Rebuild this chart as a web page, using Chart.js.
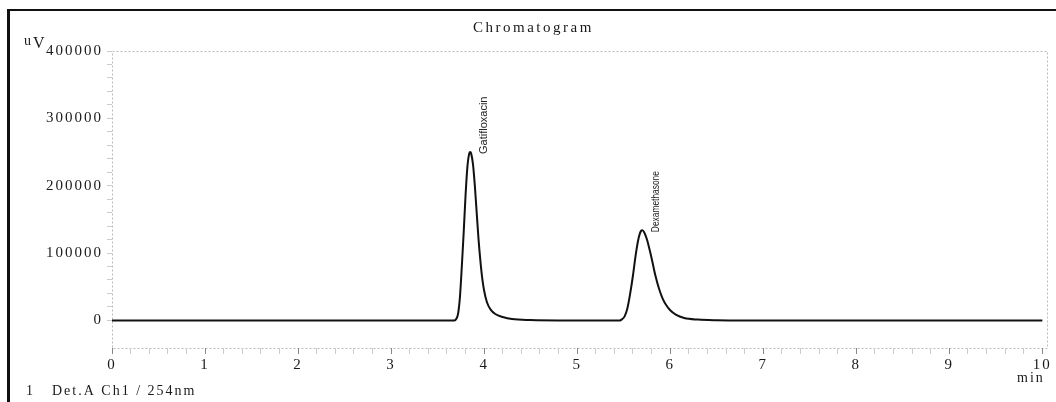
<!DOCTYPE html>
<html>
<head>
<meta charset="utf-8">
<script src="https://cdn.jsdelivr.net/npm/chart.js@4/dist/chart.umd.min.js"></script>
<style>
  body { margin: 0; background: #fff; }
  canvas { display: block; }
</style>
</head>
<body>
<canvas id="chromChart" width="1056" height="402"></canvas>
<script>
// retention time (min) and detector signal (uV)
const times = [0, 1, 2, 3, 3.6, 3.68, 3.7, 3.72, 3.74, 3.76, 3.78, 3.8, 3.82, 3.84, 3.85, 3.86, 3.88, 3.9, 3.92, 3.94, 3.96, 3.98, 4.0, 4.03, 4.07, 4.12, 4.2, 4.3, 4.5, 4.8, 5.0, 5.4, 5.46, 5.48, 5.51, 5.54, 5.57, 5.6, 5.63, 5.66, 5.69, 5.7, 5.72, 5.75, 5.78, 5.81, 5.84, 5.88, 5.92, 5.96, 6.0, 6.06, 6.15, 6.3, 6.5, 6.8, 7.2, 8, 9, 10];
const signal = [0, 0, 0, 0, 0, 0, 2000, 10000, 35000, 80000, 130000, 185000, 228000, 248000, 250000, 248000, 232000, 200000, 160000, 120000, 88000, 62000, 44000, 27000, 16000, 9500, 5000, 2000, 500, 0, 0, 0, 0, 1500, 6000, 18000, 40000, 67000, 98000, 122000, 133500, 134000, 131000, 120000, 104000, 86000, 67000, 47000, 32000, 22000, 15000, 8500, 3500, 1200, 300, 0, 0, 0, 0, 0];

const peakNames = ['Gatifloxacin', 'Dexamethasone'];
const peakTimes = [3.85, 5.7];
const peakHeights = [250000, 134000];

const yTicks = [0, 100000, 200000, 300000, 400000];
const xTicks = [0, 1, 2, 3, 4, 5, 6, 7, 8, 9, 10];

const points = times.map((t, i) => ({ x: t, y: signal[i] }));

const serif = "'Liberation Serif', 'Times New Roman', serif";

// small unlabelled ticks between the labelled ones
function minorTicks(labels, parts) {
    const out = [];
    for (let i = 0; i < labels.length - 1; i++) {
        const step = (labels[i + 1] - labels[i]) / parts;
        for (let k = 0; k < parts; k++) out.push(labels[i] + k * step);
    }
    out.push(labels[labels.length - 1]);
    return out;
}

const frame = {
    id: 'frame',
    beforeUpdate(chart) { chart.ctx.letterSpacing = '2px'; },
    beforeDraw(chart) {
        const ctx = chart.ctx;
        const a = chart.chartArea;
        ctx.save();
        ctx.fillStyle = '#fff';
        ctx.fillRect(0, 0, chart.width, chart.height);
        // scanned page frame
        ctx.strokeStyle = '#111';
        ctx.lineWidth = 2;
        ctx.beginPath();
        ctx.moveTo(7, 10); ctx.lineTo(chart.width, 10);
        ctx.stroke();
        ctx.lineWidth = 3;
        ctx.beginPath();
        ctx.moveTo(8.5, 9); ctx.lineTo(8.5, chart.height);
        ctx.stroke();
        // dotted plot border
        ctx.strokeStyle = '#bbb';
        ctx.lineWidth = 1;
        ctx.setLineDash([2, 2]);
        ctx.strokeRect(a.left + 0.5, a.top + 0.5, a.right - a.left, a.bottom - a.top);
        ctx.setLineDash([]);
        ctx.restore();
        ctx.letterSpacing = '2px';
    },
    afterDraw(chart) {
        const ctx = chart.ctx;
        const xs = chart.scales.x, ys = chart.scales.y;
        ctx.save();
        ctx.fillStyle = '#1a1a1a';
        ctx.textBaseline = 'middle';
        ctx.letterSpacing = '2.5px';
        ctx.font = '15px ' + serif;
        ctx.textAlign = 'left';
        ctx.fillText('Chromatogram', 473, 28);
        ctx.letterSpacing = '1px';
        ctx.font = '14px ' + serif;
        ctx.fillText('u', 24, 41);
        ctx.font = '16px ' + serif;
        ctx.fillText('V', 33, 44);
        ctx.letterSpacing = '2px';
        ctx.font = '14px ' + serif;
        ctx.fillText('1', 26, 391);
        ctx.fillText('Det.A Ch1 / 254nm', 52, 391);
        ctx.fillText('min', 1017, 378);
        // peak names, rotated
        ctx.letterSpacing = '0px';
        ctx.font = "11px 'Liberation Sans Narrow', 'Liberation Sans', sans-serif";
        ctx.fillStyle = '#222';
        peakNames.forEach((name, i) => {
            const px = xs.getPixelForValue(peakTimes[i]);
            const py = ys.getPixelForValue(peakHeights[i]);
            ctx.save();
            ctx.translate(px + 14, py + 2);
            ctx.rotate(-Math.PI / 2);
            ctx.textAlign = 'left';
            ctx.textBaseline = 'middle';
            ctx.fillText(name, 0, 0, 61);
            ctx.restore();
        });
        ctx.restore();
    }
};

const isLabel = (list, v) => list.find(t => Math.abs(t - v) < 1e-6);

const ctx = document.getElementById('chromChart').getContext('2d');
const chromChart = new Chart(ctx, {
    type: 'line',
    data: {
        datasets: [{
            data: points,
            borderColor: '#111',
            borderWidth: 2,
            pointRadius: 0,
            fill: false,
            cubicInterpolationMode: 'monotone'
        }]
    },
    options: {
        responsive: false,
        animation: false,
        events: [],
        layout: { padding: { left: 0, top: 51, right: 9, bottom: 0 } },
        plugins: {
            legend: { display: false },
            tooltip: { enabled: false }
        },
        scales: {
            x: {
                type: 'linear',
                min: 0,
                max: 10.05,
                afterFit(s) { s.height = 54; },
                afterBuildTicks(s) { s.ticks = minorTicks(xTicks, 5).map(v => ({ value: v })); },
                border: { display: false },
                grid: {
                    drawOnChartArea: false,
                    tickLength: 6,
                    tickColor: (c) => isLabel(xTicks, c.tick.value) !== undefined ? '#888' : '#ccc'
                },
                ticks: {
                    autoSkip: false,
                    maxRotation: 0,
                    padding: 2,
                    color: '#1a1a1a',
                    font: { family: serif, size: 15 },
                    callback: (v) => {
                        const m = isLabel(xTicks, v);
                        return m === undefined ? '' : String(m);
                    }
                }
            },
            y: {
                min: -41000,
                max: 400000,
                afterFit(s) { s.width = 112; },
                afterBuildTicks(s) { s.ticks = minorTicks(yTicks, 5).map(v => ({ value: v })); },
                border: { display: false },
                grid: {
                    drawOnChartArea: false,
                    tickLength: 5,
                    tickColor: '#ccc'
                },
                ticks: {
                    autoSkip: false,
                    padding: 4,
                    color: '#1a1a1a',
                    font: { family: serif, size: 15 },
                    callback: (v) => {
                        const m = isLabel(yTicks, v);
                        return m === undefined ? '' : String(m);
                    }
                }
            }
        }
    },
    plugins: [frame]
});
</script>
</body>
</html>
